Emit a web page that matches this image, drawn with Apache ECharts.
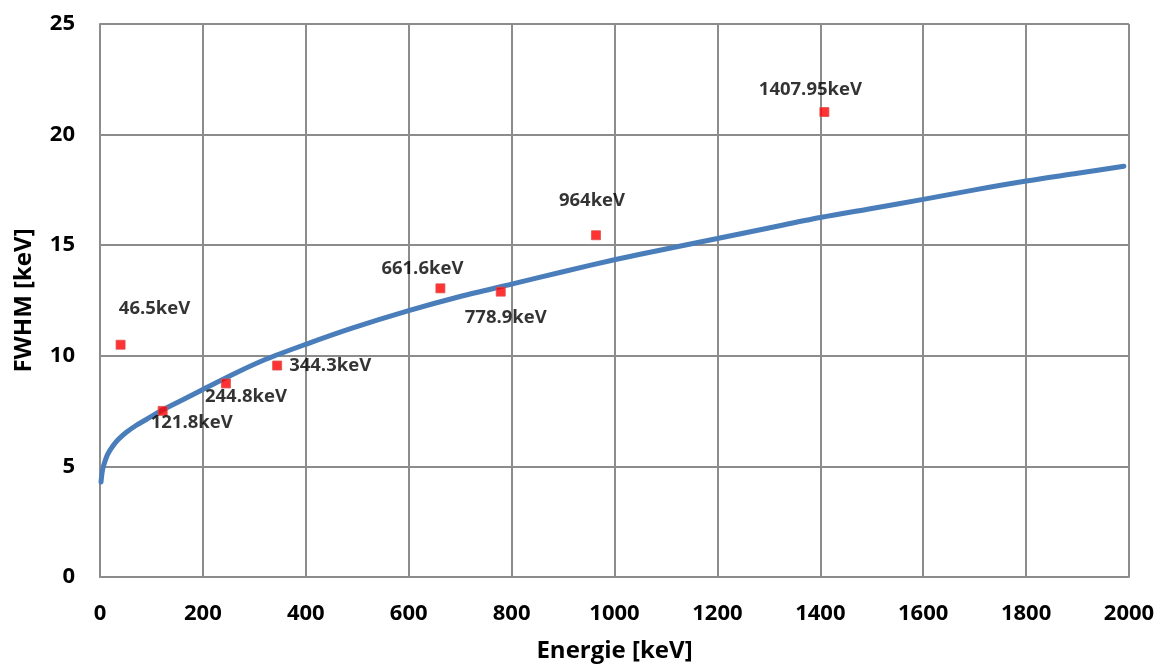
<!DOCTYPE html>
<html>
<head>
<meta charset="utf-8">
<script src="https://cdn.jsdelivr.net/npm/echarts@6/dist/echarts.min.js"></script>
<style>
html,body{margin:0;padding:0;background:#fff;}
#chart{width:1160px;height:668px;}
</style>
</head>
<body>
<div id="chart"></div>
<script>
// Fitted FWHM curve
const curveEnergy = [2, 5, 10, 15, 25, 35, 50, 70, 90, 120, 160, 200, 260, 320, 400, 490, 600, 700, 800, 900, 1000, 1100, 1200, 1300, 1400, 1500, 1600, 1700, 1800, 1900, 1990];
const curveFwhm   = [4.3, 4.85, 5.25, 5.55, 5.92, 6.2, 6.52, 6.85, 7.12, 7.53, 8.0, 8.48, 9.18, 9.82, 10.52, 11.25, 12.04, 12.68, 13.24, 13.8, 14.34, 14.83, 15.3, 15.78, 16.25, 16.66, 17.07, 17.5, 17.9, 18.25, 18.57];

// Measured peaks
const peakLabels = ['46.5keV', '121.8keV', '244.8keV', '344.3keV', '661.6keV', '778.9keV', '964keV', '1407.95keV'];
const peakEnergy = [40, 121.8, 244.8, 344.3, 661.6, 778.9, 964, 1407.95];
const peakFwhm   = [10.5, 7.51, 8.75, 9.56, 13.05, 12.9, 15.45, 21.02];

// Axis ticks
const xTicks = [0, 200, 400, 600, 800, 1000, 1200, 1400, 1600, 1800, 2000];
const yTicks = [0, 5, 10, 15, 20, 25];

const labelOffsets = [[34, -36], [29, 12], [20, 13], [53, 0], [-18, -20], [5, 26], [-4, -35], [-14, -22]];

const FONT = '"Open Sans", "DejaVu Sans", sans-serif';
const GRID_COLOR = '#8c8c8c';

const chart = echarts.init(document.getElementById('chart'), null, {renderer: 'canvas'});

const curveData = curveEnergy.map((e, i) => [e, curveFwhm[i]]);
const peakData = peakEnergy.map((e, i) => ({
  value: [e, peakFwhm[i]],
  name: peakLabels[i],
  label: { offset: labelOffsets[i] }
}));

chart.setOption({
  animation: false,
  backgroundColor: '#fff',
  grid: { left: 100, right: 31, top: 24, bottom: 89, containLabel: false },
  xAxis: {
    type: 'value',
    min: xTicks[0],
    max: xTicks[xTicks.length - 1],
    interval: xTicks[1] - xTicks[0],
    name: 'Energie [keV]',
    nameLocation: 'middle',
    nameGap: 62,
    nameTextStyle: { fontFamily: FONT, fontWeight: 'bold', fontSize: 24, color: '#000' },
    axisLine: { show: true, lineStyle: { color: GRID_COLOR, width: 2 } },
    axisTick: { show: false },
    axisLabel: { margin: 26, fontFamily: FONT, fontWeight: 'bold', fontSize: 22, color: '#000', formatter: v => String(v) },
    splitLine: { show: true, lineStyle: { color: GRID_COLOR, width: 2 } }
  },
  yAxis: {
    type: 'value',
    min: yTicks[0],
    max: yTicks[yTicks.length - 1],
    interval: yTicks[1] - yTicks[0],
    name: 'FWHM [keV]',
    nameLocation: 'middle',
    nameGap: 64,
    nameTextStyle: { fontFamily: FONT, fontWeight: 'bold', fontSize: 24, color: '#000' },
    axisLine: { show: true, lineStyle: { color: GRID_COLOR, width: 2 } },
    axisTick: { show: false },
    axisLabel: { margin: 25, fontFamily: FONT, fontWeight: 'bold', fontSize: 22, color: '#000', formatter: v => String(v) },
    splitLine: { show: true, lineStyle: { color: GRID_COLOR, width: 2 } }
  },
  series: [
    {
      type: 'line',
      data: curveData,
      smooth: 0.3,
      showSymbol: false,
      symbol: 'none',
      lineStyle: { color: '#4a7ebb', width: 5, cap: 'round' },
      z: 2
    },
    {
      type: 'scatter',
      data: peakData,
      symbol: 'rect',
      symbolSize: 9,
      itemStyle: { color: '#ff0000', borderColor: '#d9534f', borderWidth: 1 },
      label: {
        show: true,
        position: 'inside',
        formatter: p => p.name,
        fontFamily: FONT,
        fontWeight: 'bold',
        fontSize: 18.5,
        color: '#000'
      },
      z: 3
    }
  ]
});
</script>
</body>
</html>
